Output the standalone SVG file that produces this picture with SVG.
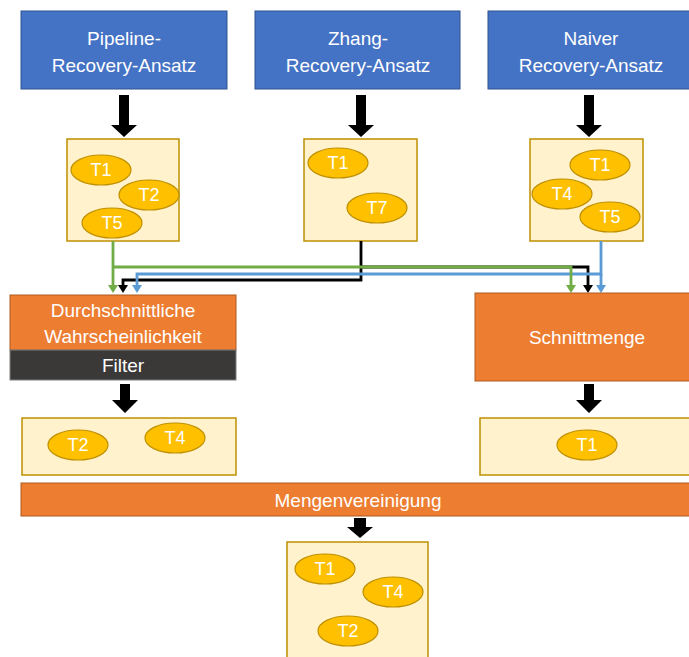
<svg xmlns="http://www.w3.org/2000/svg" width="689" height="657" viewBox="0 0 689 657">
<defs>
<style>
.blue{fill:#4472C4;stroke:#2F528F;stroke-width:1}
.org{fill:#ED7D31;stroke:#AE5A21;stroke-width:1}
.dark{fill:#3B3838;stroke:#7F7F7F;stroke-width:1}
.set{fill:#FFF2CC;stroke:#BF9000;stroke-width:1.5}
.el{fill:#FFC000;stroke:#BF9000;stroke-width:1.2}
.t{font-family:"Liberation Sans",Arial,sans-serif;font-size:19px;fill:#FFFFFF;text-anchor:middle}
.tl{font-family:"Liberation Sans",Arial,sans-serif;font-size:18px;fill:#FFFFFF;text-anchor:middle}
.big{fill:#000000}
.cg{fill:none;stroke:#70AD47;stroke-width:2.8}
.cb{fill:none;stroke:#5B9BD5;stroke-width:2.8}
.ck{fill:none;stroke:#000000;stroke-width:2.8}
</style>
</defs>
<rect width="689" height="657" fill="#FFFFFF"/>

<g id="pipeline">
<rect class="blue" x="21" y="11" width="206" height="78"/>
<text class="t" x="124" y="45">Pipeline-</text>
<text class="t" x="124" y="72">Recovery-Ansatz</text>
</g>
<g id="zhang">
<rect class="blue" x="255" y="11" width="205" height="78"/>
<text class="t" x="358" y="45">Zhang-</text>
<text class="t" x="358" y="72">Recovery-Ansatz</text>
</g>
<g id="naiver">
<rect class="blue" x="488" y="11" width="207" height="78"/>
<text class="t" x="591" y="45">Naiver</text>
<text class="t" x="591" y="72">Recovery-Ansatz</text>
</g>

<g id="bigarrows">
<polygon class="big" points="119,95 129,95 129,125 137,125 124,137 111,125 119,125"/>
<polygon class="big" points="356,95 366,95 366,125 374,125 361,137 348,125 356,125"/>
<polygon class="big" points="584,95 594,95 594,125 602,125 589,137 576,125 584,125"/>
<polygon class="big" points="120,384 130,384 130,400 138,400 125,413 112,400 120,400"/>
<polygon class="big" points="584,384 594,384 594,400 602,400 589,413 576,400 584,400"/>
<polygon class="big" points="354,518 366,518 366,527 373,527 360,538 347,527 354,527"/>
</g>

<g id="set-pipeline">
<rect class="set" x="67" y="139" width="112" height="102"/>
<ellipse class="el" cx="101" cy="170" rx="30" ry="15"/><text class="tl" x="101" y="176">T1</text>
<ellipse class="el" cx="149" cy="195" rx="30" ry="15"/><text class="tl" x="149" y="201">T2</text>
<ellipse class="el" cx="112" cy="223" rx="30" ry="15"/><text class="tl" x="112" y="229">T5</text>
</g>
<g id="set-zhang">
<rect class="set" x="304" y="139" width="113" height="102"/>
<ellipse class="el" cx="338" cy="163" rx="30" ry="15"/><text class="tl" x="338" y="169">T1</text>
<ellipse class="el" cx="377" cy="208" rx="30" ry="15"/><text class="tl" x="377" y="214">T7</text>
</g>
<g id="set-naiver">
<rect class="set" x="530" y="139" width="113" height="102"/>
<ellipse class="el" cx="600" cy="165" rx="30" ry="15"/><text class="tl" x="600" y="171">T1</text>
<ellipse class="el" cx="562" cy="194" rx="30" ry="15"/><text class="tl" x="562" y="200">T4</text>
<ellipse class="el" cx="610" cy="217" rx="30" ry="15"/><text class="tl" x="610" y="223">T5</text>
</g>

<g id="connectors">
<path class="ck" d="M361,241 V280 H123 V286"/>
<polygon fill="#000" points="118,285 128,285 123,293"/>
<path class="ck" d="M361,267 H588 V286"/>
<polygon fill="#000" points="583,285 593,285 588,293"/>
<path class="cb" d="M601,241 V274 H137 V286"/>
<polygon fill="#5B9BD5" points="132,285 142,285 137,293"/>
<path class="cb" d="M601,274 V286"/>
<polygon fill="#5B9BD5" points="596,285 606,285 601,293"/>
<path class="cg" d="M113,241 V286"/>
<polygon fill="#70AD47" points="108,285 118,285 113,293"/>
<path class="cg" d="M113,267 H571 V286"/>
<polygon fill="#70AD47" points="566,285 576,285 571,293"/>
</g>

<g id="durchschnitt">
<rect class="org" x="10" y="295" width="226" height="55"/>
<text class="t" x="123" y="317">Durchschnittliche</text>
<text class="t" x="123" y="343">Wahrscheinlichkeit</text>
</g>
<g id="filter">
<rect class="dark" x="10" y="350" width="226" height="30"/>
<text class="t" x="123" y="372">Filter</text>
</g>
<g id="schnittmenge">
<rect class="org" x="475" y="293" width="220" height="88"/>
<text class="t" x="587" y="344">Schnittmenge</text>
</g>

<g id="set-filter">
<rect class="set" x="22" y="418" width="214" height="57"/>
<ellipse class="el" cx="78" cy="445" rx="30" ry="15"/><text class="tl" x="78" y="451">T2</text>
<ellipse class="el" cx="175" cy="438" rx="30" ry="15"/><text class="tl" x="175" y="444">T4</text>
</g>
<g id="set-schnitt">
<rect class="set" x="480" y="418" width="215" height="57"/>
<ellipse class="el" cx="587" cy="445" rx="30" ry="15"/><text class="tl" x="587" y="451">T1</text>
</g>

<g id="mengenvereinigung">
<rect class="org" x="21" y="483" width="674" height="33"/>
<text class="t" x="358" y="507">Mengenvereinigung</text>
</g>

<g id="set-result">
<rect class="set" x="287" y="542" width="141" height="125"/>
<ellipse class="el" cx="325" cy="569" rx="30" ry="15"/><text class="tl" x="325" y="575">T1</text>
<ellipse class="el" cx="393" cy="592" rx="30" ry="15"/><text class="tl" x="393" y="598">T4</text>
<ellipse class="el" cx="348" cy="631" rx="30" ry="15"/><text class="tl" x="348" y="637">T2</text>
</g>
</svg>
